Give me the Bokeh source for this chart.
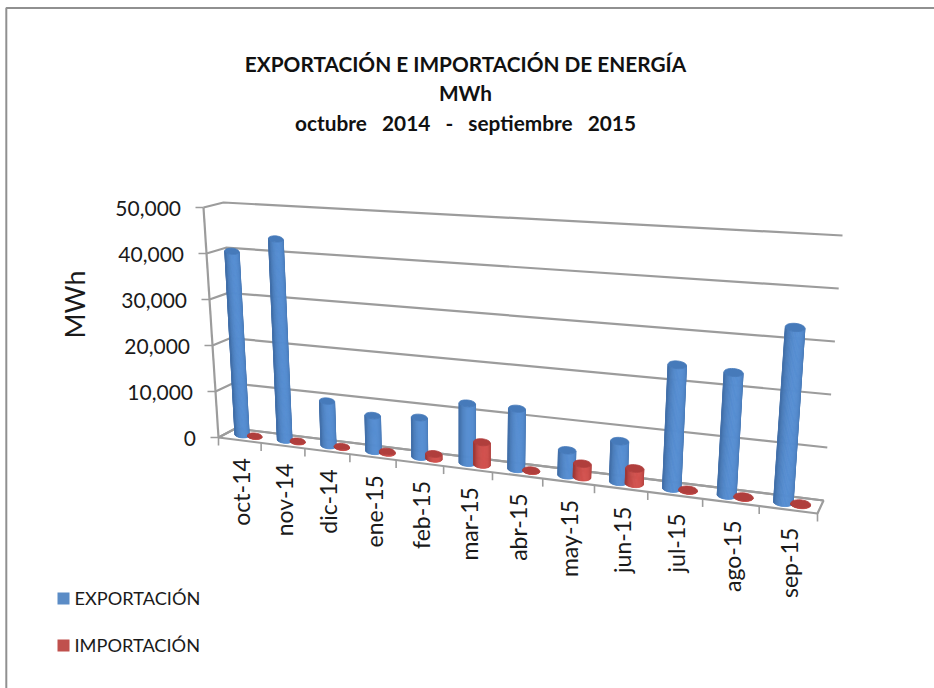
import math
from bokeh.plotting import figure
from bokeh.models import Range1d, ColumnDataSource
from bokeh.core.properties import value
from bokeh.embed import file_html
from bokeh.resources import INLINE

months = ["oct-14", "nov-14", "dic-14", "ene-15", "feb-15", "mar-15",
          "abr-15", "may-15", "jun-15", "jul-15", "ago-15", "sep-15"]
exportacion = [40100, 43400, 9500, 7500, 8200, 12200, 12200, 5000, 8000, 24000, 23500, 33000]
importacion = [100, 150, 150, 300, 1000, 4600, 100, 2700, 3000, 100, 100, 100]
y_ticks = [0, 10000, 20000, 30000, 40000, 50000]
y_labels = ["0", "10,000", "20,000", "30,000", "40,000", "50,000"]
y_max = 50000
title_lines = ["EXPORTACIÓN E IMPORTACIÓN DE ENERGÍA", "MWh",
               "octubre \u00a0\u00a02014 \u00a0\u00a0- \u00a0\u00a0septiembre \u00a0\u00a02015"]
series_names = ["EXPORTACIÓN", "IMPORTACIÓN"]

# Projection of the 3-D box onto the page: corners (left/right, front/back, floor/top)
C = {("L", 0, 0): (218, 437), ("R", 0, 0): (817, 513),
     ("L", 1, 0): (235, 428), ("R", 1, 0): (823, 500),
     ("L", 0, 1): (203, 207), ("R", 0, 1): (838, 243),
     ("L", 1, 1): (223, 202), ("R", 1, 1): (842, 235)}
K = 0.843


def persp(t):
    u = t / len(months)
    return u * K / (1 + u * (K - 1))


def P(t, d, v):
    s, w = persp(t), v / y_max
    out = []
    for a in (0, 1):
        val = 0
        for side, fs in (("L", 1 - s), ("R", s)):
            for dd, fd in ((0, 1 - d), (1, d)):
                for vv, fv in ((0, 1 - w), (1, w)):
                    val += C[(side, dd, vv)][a] * fs * fd * fv
        out.append(val)
    return out


def mix(c1, c2, f):
    return "#%02x%02x%02x" % tuple(round(a + (b - a) * f) for a, b in zip(c1, c2))


p = figure(width=934, height=688, output_backend="svg", toolbar_location=None,
           x_range=Range1d(0, 934), y_range=Range1d(688, 0),
           min_border=0, margin=(0, 0, 0, 0), outline_line_color=None,
           background_fill_color="white", border_fill_color="white")
p.axis.visible = False
p.grid.visible = False

GRID = "#9c9c9c"
FONT = "Lato"

# chart frame (top and left only)
p.line([5.8, 5.8, 934], [688, 7.5, 7.5], line_color="#909090", line_width=2)

# floor
floor = [P(0, 0, 0), P(len(months), 0, 0), P(len(months), 1, 0), P(0, 1, 0)]
p.patch([q[0] for q in floor], [q[1] for q in floor], fill_color="white",
        line_color=GRID, line_width=2.2)

# gridlines
for v in y_ticks:
    pts = [P(0, 0, v), P(0, 1, v), P(len(months), 1, v)]
    p.line([q[0] for q in pts], [q[1] for q in pts], line_color=GRID, line_width=2.2)

# value axis
a0, a1 = P(0, 0, 0), P(0, 0, y_max)
p.line([a0[0], a1[0]], [a0[1], a1[1]], line_color=GRID, line_width=2.2)
for v, lab in zip(y_ticks, y_labels):
    q = P(0, 0, v)
    p.line([q[0] - 8, q[0]], [q[1], q[1]], line_color=GRID, line_width=1.6)
    p.text([q[0] - 22.5], [q[1] + 0.5], text=[lab], text_font=value(FONT), text_font_size="21px",
           text_align="right", text_baseline="middle", text_color="#1a1a1a")

# category axis
for i in range(len(months) + 1):
    q = P(i, 0, 0)
    p.line([q[0], q[0]], [q[1], q[1] + 8], line_color=GRID, line_width=1.6)
for i, m in enumerate(months):
    q = P(i + 0.5, 0, 0)
    p.text([q[0] + 1], [q[1] + 18], text=[m], angle=[math.pi / 2], text_font=value(FONT),
           text_font_size="23px", text_align="right", text_baseline="middle", text_color="#1a1a1a")

# cylinders
RT, N = 0.17, 24
STYLES = [(-0.14, (66, 112, 170), (86, 142, 210), (70, 122, 186)),
          (0.16, (160, 56, 54), (210, 82, 78), (176, 62, 60))]


def cylinder(tc, val, dark, light, top):
    c0, c1 = P(tc, 0.5, 0), P(tc, 0.5, val)
    rx = (P(tc + RT, 0.5, 0)[0] - P(tc - RT, 0.5, 0)[0]) / 2
    ry = 0.42 * rx

    def rim(c, th):
        return (c[0] + rx * math.cos(th), c[1] + ry * math.sin(th) + 0.08 * rx * math.cos(th))

    xs, ys, cols = [], [], []
    for j in range(N):
        th0, th1 = math.pi * j / N, math.pi * (j + 1) / N
        quad = [rim(c0, th0), rim(c0, th1), rim(c1, th1), rim(c1, th0)]
        xs.append([q[0] for q in quad])
        ys.append([q[1] for q in quad])
        f = max(0.0, math.sin((j + 0.5) / N * math.pi + 0.25))
        cols.append(mix(dark, light, f ** 1.2))
    ring = [rim(c1, 2 * math.pi * j / 28) for j in range(28)]
    xs.append([q[0] for q in ring])
    ys.append([q[1] for q in ring])
    cols.append(mix(top, top, 0))
    src = ColumnDataSource(dict(xs=xs, ys=ys, c=cols))
    p.patches("xs", "ys", source=src, fill_color="c", line_color="c", line_width=0.8)


for i in range(len(months)):
    for (off, dark, light, top), vals in zip(STYLES, (exportacion, importacion)):
        cylinder(i + 0.5 + off, vals[i], dark, light, top)

# title
for line, y in zip(title_lines, (63, 92, 122)):
    p.text([465], [y], text=[line], text_font=value(FONT), text_font_style="bold",
           text_font_size="20.8px", text_align="center", text_baseline="middle", text_color="#111111")

# value-axis title
p.text([74], [304], text=["MWh"], angle=[math.pi / 2], text_font=value(FONT), text_font_size="27px",
       text_align="center", text_baseline="middle", text_color="#1a1a1a")

# legend
for name, col, yc in zip(series_names, ("#5b8cc6", "#c0504d"), (598, 645)):
    p.quad(left=[57], right=[69], top=[yc - 6], bottom=[yc + 6], fill_color=col, line_color=None)
    p.text([74], [yc - 1], text=[name], text_font=value(FONT), text_font_size="18.2px",
           text_align="left", text_baseline="middle", text_color="#1a1a1a")

open("out.html", "w").write(file_html(p, INLINE))
